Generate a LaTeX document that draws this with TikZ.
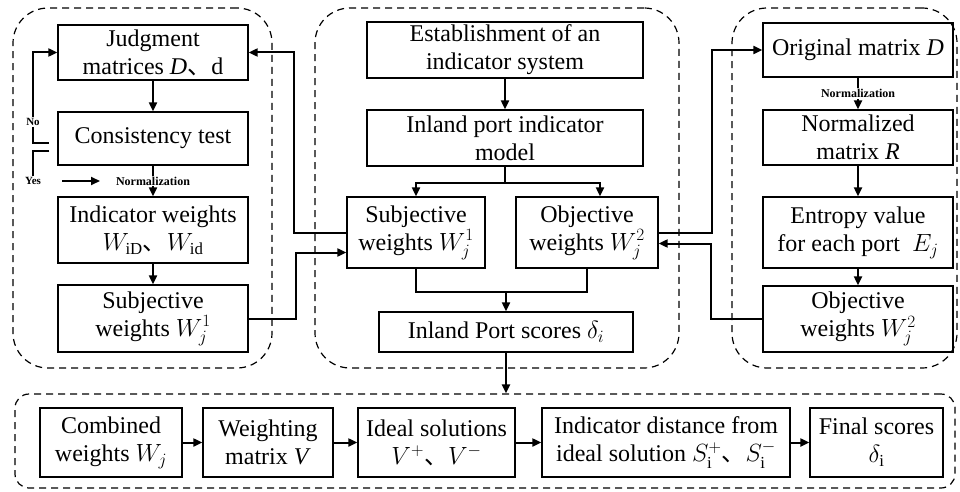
\documentclass[tikz,border=0pt]{standalone}
\usepackage{amsmath}
\usepackage{fontspec}
\setmainfont{Liberation Serif}
\newfontfamily\cjk{Noto Sans CJK SC}
\usepackage{tikz}
\usetikzlibrary{arrows.meta,calc}

\begin{document}
\begin{tikzpicture}[x=1pt, y=-1pt, >={Triangle[length=9pt,width=8pt]},
  box/.style = {draw, line width=1.3pt, align=center, inner sep=1pt, font=\fontsize{24}{28}\selectfont},
  sz/.style 2 args = {minimum width=#1, minimum height=#2},
  grp/.style = {draw, line width=1.2pt, dash pattern=on 7pt off 5pt, rounded corners=35pt},
  link/.style = {line width=2pt},
  note/.style = {font=\fontsize{12}{14}\selectfont\bfseries, inner sep=1pt}]
	\useasboundingbox (0,0) rectangle (960,492);
	% dashed groups
	\node[grp, sz={259}{360}] (gl) at (142.5,188) {};
	\node[grp, sz={364}{360}] (gc) at (497,188) {};
	\node[grp, sz={225}{360}] (gr) at (844.5,188) {};
	\node[grp, sz={940}{94}, rounded corners=14pt] (gb) at (485,441) {};
	% left group
	\node[box, sz={190}{55}] (jm) at (153,52.5) {Judgment\\matrices \textit{D}{\cjk 、}d};
	\node[box, sz={190}{53}] (ct) at (153,138.5) {Consistency test};
	\node[box, sz={190}{66}] (iw) at (153,230) {Indicator weights\\$W_{\mathrm{iD}}${\cjk 、}$W_{\mathrm{id}}$};
	\node[box, sz={190}{67}] (sw) at (153,318.5) {Subjective\\weights $W_j^1$};
	\node[note, font=\fontsize{11}{13}\selectfont\bfseries] (no) at (33,122) {No};
	\node[note, font=\fontsize{11}{13}\selectfont\bfseries] (yes) at (33,181) {Yes};
	% center group
	\node[box, sz={276}{56}] (est) at (505,50) {Establishment of an\\indicator system};
	\node[box, sz={276}{56}] (ipm) at (505,138) {Inland port indicator\\model};
	\node[box, sz={138}{71}] (csw) at (416,232.5) {Subjective\\weights $W_j^1$};
	\node[box, sz={142}{71}] (cow) at (587,232.5) {Objective\\weights $W_j^2$};
	\node[box, sz={254}{40}] (ips) at (506,332) {Inland Port scores $\delta_i$};
	% right group
	\node[box, sz={190}{54}] (om) at (858,50) {Original matrix \textit{D}};
	\node[box, sz={190}{55}] (nm) at (858,137.5) {Normalized\\matrix \textit{R}};
	\node[box, sz={190}{71}] (ev) at (858,232.5) {Entropy value\\for each port\ \ $E_j$};
	\node[box, sz={190}{66}] (ow) at (858,319) {Objective\\weights $W_j^2$};
	% bottom group
	\node[box, sz={142}{69}] (cw) at (111,442.5) {Combined\\weights $W_j$};
	\node[box, sz={130}{69}] (wm) at (268,442.5) {Weighting\\matrix \textit{V}};
	\node[box, sz={157}{69}] (is) at (436.5,442.5) {Ideal solutions\\$V^+${\cjk 、}$V^-$};
	\node[box, sz={248}{69}] (id) at (666,442.5) {Indicator distance from\\ideal solution $S_{\mathrm{i}}^+${\cjk 、}$S_{\mathrm{i}}^-$};
	\node[box, sz={133}{69}] (fs) at (876.5,442.5) {Final scores\\$\delta_{\mathrm{i}}$};
	% left links
	\draw[link,->] (jm) -- (ct);
	\draw[link,->] (ct) -- node[note, fill=white] (nlab) {Normalization} (iw);
	\draw[link,->] (iw) -- (sw);
	\draw[link,->] (no.north) |- (jm.west);
	\draw[link] (no.south) |- ($(ct.west)+(-8,4.5)$);
	\draw[link] ($(ct.west)+(-8,12.5)$) -| (yes.north);
	\draw[link,->] ($(yes.east)+(20,0)$) -- ($(nlab.west)+(-14,0)$);
	% center links
	\draw[link,->] (est) -- (ipm);
	\draw[link,->] (ipm.south) -- ++(0,16) coordinate (sp) -| (csw.north);
	\draw[link,->] (sp) -| ($(cow.north)+(13,0)$);
	\draw[link] (csw.south) -- ++(0,23) coordinate (jn) -| (cow.south);
	\draw[link,->] (ips.north |- jn) -- (ips.north);
	\draw[link,->] (ips.south) -- (ips.south |- gb.north);
	% links between groups
	\draw[link,->] (csw.west) -- ++(-52,0) |- (jm.east);
	\draw[link,->] (sw.east) -- ++(47,0) |- ($(csw.west)+(0,20)$);
	\draw[link,->] (cow.east) -- ++(53,0) |- (om.west);
	\draw[link,->] (ow.west) -- ++(-51,0) |- ($(cow.east)+(0,11)$);
	% right links
	\draw[link,->] (om) -- node[note, fill=white] {Normalization} (nm);
	\draw[link,->] (nm) -- (ev);
	\draw[link,->] (ev) -- (ow);
	% bottom links
	\foreach \a/\b in {cw/wm, wm/is, is/id, id/fs}
	    \draw[link,->] (\a) -- (\b);
\end{tikzpicture}
\end{document}
